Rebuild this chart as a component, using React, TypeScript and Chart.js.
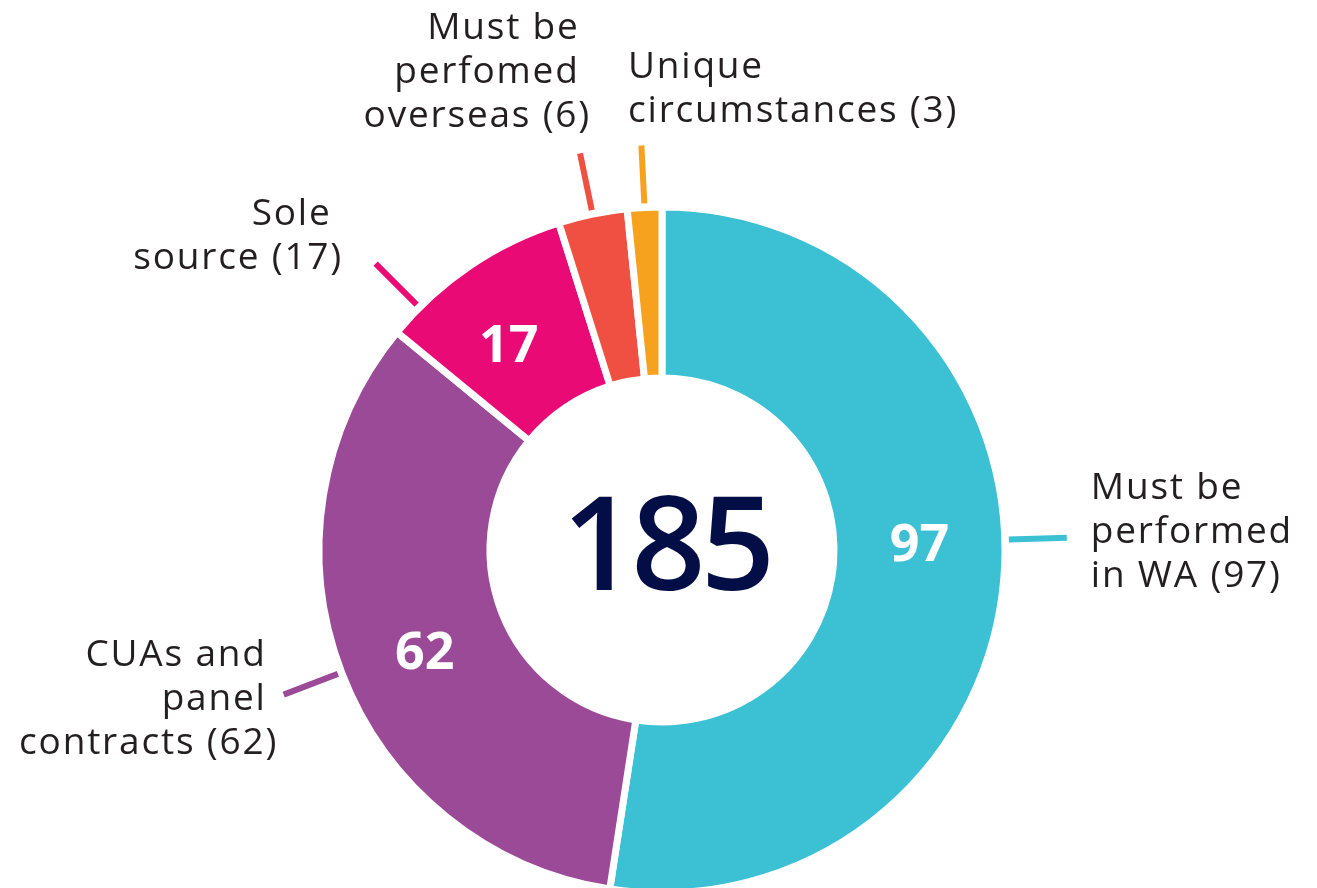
import React, { useEffect, useRef } from "react";
import { Chart, registerables } from "chart.js";

Chart.register(...registerables);

// ---- Data ----
const categories = [
  "Must be performed in WA",
  "CUAs and panel contracts",
  "Sole source",
  "Must be perfomed overseas",
  "Unique circumstances",
];
const values = [97, 62, 17, 6, 3];
const colors = ["#3cc1d4", "#9b4a98", "#e90a75", "#ef5041", "#f7a21f"];
const labelLines = [
  ["Must be", "performed", "in WA (97)"],
  ["CUAs and ", "panel ", "contracts (62)"],
  ["Sole ", "source (17)"],
  ["Must be ", "perfomed ", "overseas (6)"],
  ["Unique", "circumstances (3)"],
];
const showValue = [true, true, true, false, false];

// ---- Annotation layout (not data) ----
const leaderLayout = [
  { angleAdj: -6.1, valueAdj: -6.1, align: "left", dx: 24, dy: -39 },
  { angleAdj: 0, valueAdj: -2, align: "right", dx: -5.6, dy: -28.5 },
  { angleAdj: -10.95, valueAdj: -2.5, align: "right", dx: -32.6, dy: -38.6 },
  { angleAdj: 0, valueAdj: 0, align: "right", dx: 11, dy: -114.4 },
  { angleAdj: 0, valueAdj: 0, align: "left", dx: -13.4, dy: -67.5 },
];

const TEXT_FONT = '37px "Open Sans"';
const LINE_H = 44;

const labelPlugin = {
  id: "donutLabels",
  afterDraw(chart: any) {
    const ctx = chart.ctx as CanvasRenderingContext2D;
    const meta = chart.getDatasetMeta(0);
    const total = values.reduce((a, b) => a + b, 0);
    let cx = 0;
    let cy = 0;
    meta.data.forEach((arc: any, i: number) => {
      const p = arc.getProps(["x", "y", "startAngle", "endAngle", "innerRadius", "outerRadius"], true);
      cx = p.x;
      cy = p.y;
      const mid = (p.startAngle + p.endAngle) / 2;
      const lay = leaderLayout[i];
      const a = mid + (lay.angleAdj * Math.PI) / 180;
      const r0 = p.outerRadius + 4;
      const r1 = p.outerRadius + 62;
      const x0 = p.x + Math.cos(a) * r0;
      const y0 = p.y + Math.sin(a) * r0;
      const x1 = p.x + Math.cos(a) * r1;
      const y1 = p.y + Math.sin(a) * r1;
      ctx.save();
      ctx.strokeStyle = colors[i];
      ctx.lineWidth = 6;
      ctx.lineCap = "butt";
      ctx.beginPath();
      ctx.moveTo(x0, y0);
      ctx.lineTo(x1, y1);
      ctx.stroke();

      // category label
      ctx.fillStyle = "#231f20";
      ctx.font = TEXT_FONT;
      (ctx as any).letterSpacing = "1.8px";
      ctx.textAlign = lay.align as CanvasTextAlign;
      ctx.textBaseline = "alphabetic";
      labelLines[i].forEach((ln, k) => {
        ctx.fillText(ln, x1 + lay.dx, y1 + lay.dy + k * LINE_H);
      });
      (ctx as any).letterSpacing = "0px";

      // value label
      if (showValue[i]) {
        const va = mid + (lay.valueAdj * Math.PI) / 180;
        const vr = (p.innerRadius + p.outerRadius) / 2;
        const vx = p.x + Math.cos(va) * vr;
        const vy = p.y + Math.sin(va) * vr;
        ctx.fillStyle = "#ffffff";
        ctx.font = '700 52px "Open Sans"';
        ctx.textAlign = "center";
        ctx.fillText(String(values[i]), vx, vy + 18.5);
      }
      ctx.restore();
    });

    // center total
    ctx.save();
    ctx.fillStyle = "#040e46";
    ctx.font = '600 130px "Open Sans"';
    (ctx as any).letterSpacing = "-5px";
    ctx.textAlign = "center";
    ctx.textBaseline = "alphabetic";
    ctx.fillText(String(total), cx + 4, cy + 40);
    ctx.restore();
  },
};

export default function App() {
  const ref = useRef<HTMLCanvasElement | null>(null);
  useEffect(() => {
    if (!ref.current) return;
    const chart = new Chart(ref.current, {
      type: "doughnut",
      data: {
        labels: categories,
        datasets: [
          {
            data: values,
            backgroundColor: colors,
            borderColor: "#ffffff",
            borderWidth: 7,
            hoverOffset: 0,
          },
        ],
      },
      options: {
        responsive: false,
        animation: false,
        devicePixelRatio: 1,
        radius: 343,
        cutout: "50.15%",
        layout: { padding: { left: 312, right: 305, top: 200, bottom: 100 } },
        plugins: {
          legend: { display: false },
          tooltip: { enabled: false },
        },
        events: [],
      } as any,
      plugins: [labelPlugin],
    });
    return () => chart.destroy();
  }, []);
  return (
    <div
      style={{
        position: "fixed",
        left: 0,
        top: 0,
        width: 1317,
        height: 888,
        overflow: "hidden",
        background: "#ffffff",
      }}
    >
      <canvas ref={ref} width={1317} height={1000} style={{ display: "block" }} />
    </div>
  );
}
